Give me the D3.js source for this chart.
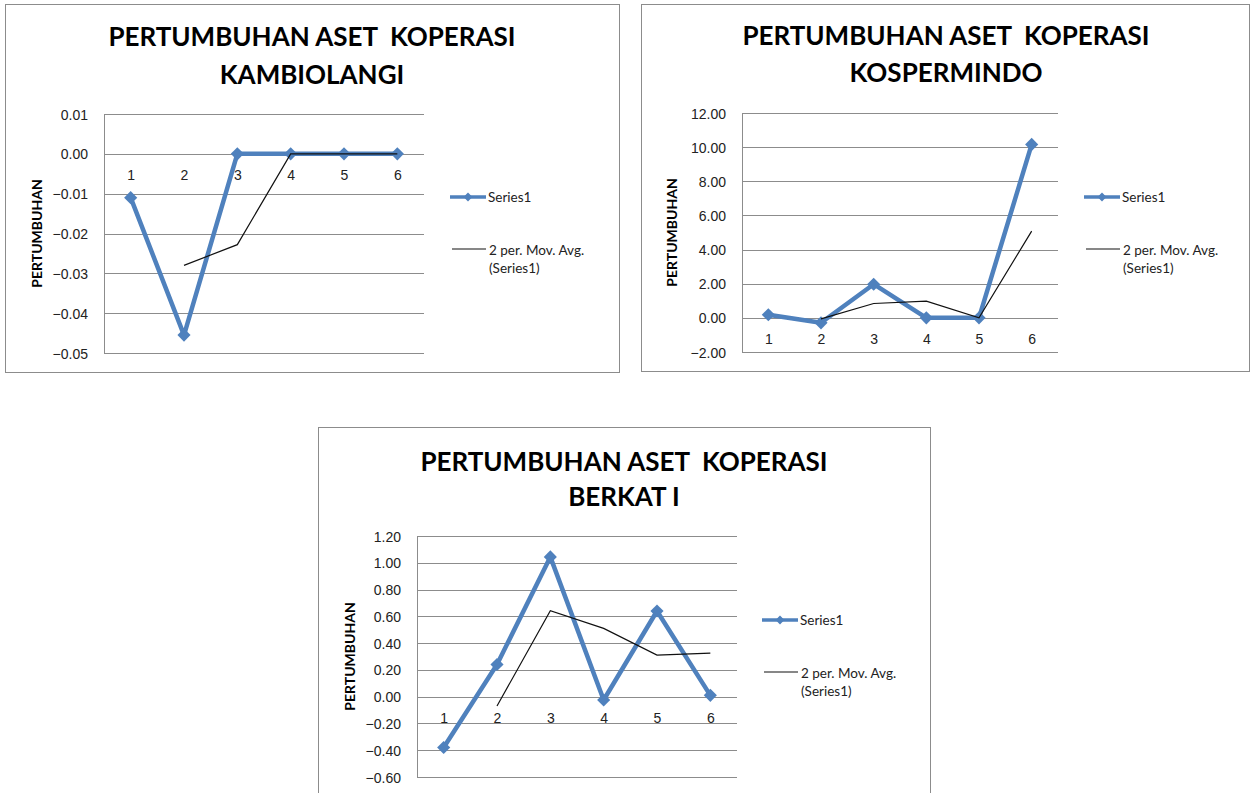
<!DOCTYPE html>
<html>
<head>
<meta charset="utf-8">
<script src="https://cdn.jsdelivr.net/npm/d3@7"></script>
<style>
    body { margin: 0; background: #fff; }
    svg { display: block; font-family: Lato, "Open Sans", sans-serif; }
    .frame { fill: #fff; stroke: #8c8c8c; stroke-width: 1; }
    .title { font-weight: bold; font-size: 26px; fill: #000; white-space: pre; }
    .tick line { stroke: #8c8c8c; shape-rendering: crispEdges; }
    .tick text { font-size: 14px; fill: #222; }
    .axis-line { stroke: #8c8c8c; shape-rendering: crispEdges; }
    .ytitle { font-weight: bold; font-size: 14px; fill: #000; }
    .legend text { font-size: 13.5px; fill: #222; }
</style>
</head>
<body>
<svg width="1251" height="793"></svg>
<script>
// data
var categories = ["1", "2", "3", "4", "5", "6"];

var kambiolangiSeries = [-0.011, -0.0455, 0, 0, 0, 0];
var kambiolangiMovAvg = [null, -0.028, -0.0228, 0, 0, 0];
var kambiolangiTicks = [0.01, 0, -0.01, -0.02, -0.03, -0.04, -0.05];

var kospermindoSeries = [0.18, -0.29, 1.97, 0, 0, 10.16];
var kospermindoMovAvg = [null, -0.06, 0.84, 0.98, 0, 5.08];
var kospermindoTicks = [12, 10, 8, 6, 4, 2, 0, -2];

var berkatSeries = [-0.38, 0.24, 1.044, -0.025, 0.64, 0.01];
var berkatMovAvg = [null, -0.07, 0.642, 0.51, 0.31, 0.325];
var berkatTicks = [1.2, 1, 0.8, 0.6, 0.4, 0.2, 0, -0.2, -0.4, -0.6];

var titleLine1 = "PERTUMBUHAN ASET  KOPERASI";
var yTitle = "PERTUMBUHAN";
var legendLabels = ["Series1", "2 per. Mov. Avg.", "(Series1)"];

var blue = "#4f81bd";

var svg = d3.select("svg");

var charts = [
    {
        name: "KAMBIOLANGI", series: kambiolangiSeries, movAvg: kambiolangiMovAvg, ticks: kambiolangiTicks,
        frame: {x: 5.5, y: 4.5, w: 614, h: 368},
        plot: {left: 104, right: 424, top: 114, bottom: 353},
        titleX: 312, titleY: [46, 84], yTitleX: 42, legendX: 450, legendY: 197
    },
    {
        name: "KOSPERMINDO", series: kospermindoSeries, movAvg: kospermindoMovAvg, ticks: kospermindoTicks,
        frame: {x: 641.5, y: 4.5, w: 608, h: 367},
        plot: {left: 742, right: 1058, top: 113, bottom: 352},
        titleX: 946, titleY: [45, 82], yTitleX: 677, legendX: 1084, legendY: 197
    },
    {
        name: "BERKAT I", series: berkatSeries, movAvg: berkatMovAvg, ticks: berkatTicks,
        frame: {x: 318.5, y: 427.5, w: 612, h: 380},
        plot: {left: 417, right: 737, top: 536, bottom: 777},
        titleX: 624, titleY: [471, 506], yTitleX: 355, legendX: 762, legendY: 620
    }
];

charts.forEach(drawChart);

function drawChart(c) {
    var g = svg.append("g");

    g.append("rect")
        .classed("frame", 1)
        .attr("x", c.frame.x).attr("y", c.frame.y)
        .attr("width", c.frame.w).attr("height", c.frame.h);

    g.selectAll(".title")
        .data([titleLine1, c.name]).enter()
        .append("text")
        .classed("title", 1)
        .attr("x", c.titleX)
        .attr("y", function(d, i) { return c.titleY[i]; })
        .attr("text-anchor", "middle")
        .text(function(d) { return d; });

    var x = d3.scalePoint()
        .domain(categories)
        .range([c.plot.left, c.plot.right])
        .padding(0.5);

    var y = d3.scaleLinear()
        .domain(d3.extent(c.ticks))
        .range([c.plot.bottom, c.plot.top]);

    var width = c.plot.right - c.plot.left;

    // gridlines + value labels
    var yAxis = g.append("g")
        .attr("transform", "translate(" + c.plot.left + ",0)")
        .call(d3.axisLeft(y)
            .tickValues(c.ticks)
            .tickSize(-width)
            .tickPadding(16)
            .tickFormat(d3.format(".2f")));
    yAxis.select(".domain").remove();
    yAxis.selectAll(".tick text").attr("dy", "0.36em");

    g.append("line")
        .classed("axis-line", 1)
        .attr("x1", c.plot.left).attr("x2", c.plot.left)
        .attr("y1", c.plot.top).attr("y2", c.plot.bottom);

    // category axis crosses at zero
    var xAxis = g.append("g")
        .attr("transform", "translate(0," + y(0) + ")")
        .call(d3.axisBottom(x).tickSize(0).tickPadding(16));
    xAxis.select(".domain").remove();

    g.append("text")
        .classed("ytitle", 1)
        .attr("transform", "translate(" + c.yTitleX + "," + ((c.plot.top + c.plot.bottom) / 2) + ") rotate(-90)")
        .attr("text-anchor", "middle")
        .text(yTitle);

    var line = d3.line()
        .defined(function(d) { return d != null; })
        .x(function(d, i) { return x(categories[i]); })
        .y(function(d) { return y(d); });

    g.append("path")
        .attr("d", line(c.series))
        .attr("fill", "none")
        .attr("stroke", blue)
        .attr("stroke-width", 4.5)
        .attr("stroke-linejoin", "round");

    var diamond = d3.symbol().type(d3.symbolDiamond2).size(110);

    g.selectAll(".marker")
        .data(c.series).enter()
        .append("path")
        .classed("marker", 1)
        .attr("d", diamond)
        .attr("fill", blue)
        .attr("transform", function(d, i) {
            return "translate(" + x(categories[i]) + "," + y(d) + ")";
        });

    g.append("path")
        .attr("d", line(c.movAvg))
        .attr("fill", "none")
        .attr("stroke", "#111")
        .attr("stroke-width", 1.2);

    // legend
    var lg = g.append("g")
        .classed("legend", 1)
        .attr("transform", "translate(" + c.legendX + "," + c.legendY + ")");
    lg.append("line")
        .attr("x1", 0).attr("x2", 36)
        .attr("stroke", blue).attr("stroke-width", 3.5);
    lg.append("path")
        .attr("d", d3.symbol().type(d3.symbolDiamond2).size(50))
        .attr("fill", blue)
        .attr("transform", "translate(18,0)");
    lg.append("text")
        .attr("x", 38).attr("dy", "0.36em")
        .text(legendLabels[0]);
    lg.append("line")
        .attr("x1", 2).attr("x2", 36)
        .attr("y1", 52).attr("y2", 52)
        .attr("stroke", "#111").attr("stroke-width", 1.2);
    lg.append("text")
        .attr("x", 39).attr("y", 53).attr("dy", "0.36em")
        .text(legendLabels[1]);
    lg.append("text")
        .attr("x", 39).attr("y", 71).attr("dy", "0.36em")
        .text(legendLabels[2]);
}
</script>
</body>
</html>
